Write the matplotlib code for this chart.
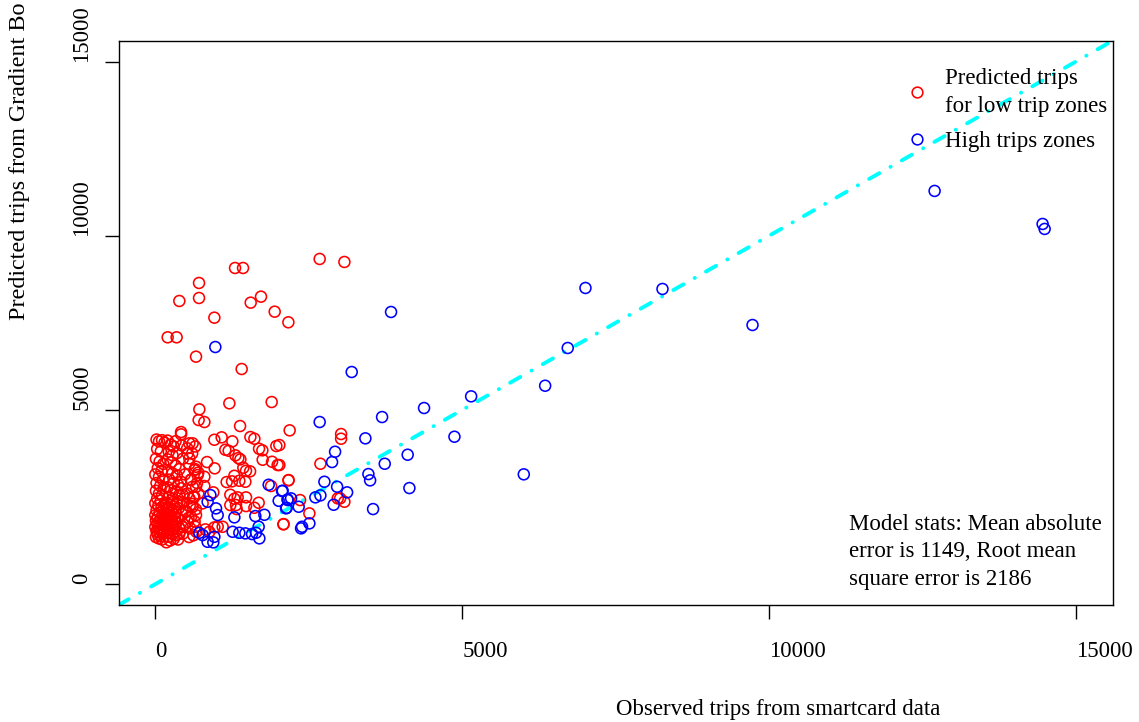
import numpy as np
import matplotlib
matplotlib.use("Agg")
import matplotlib.pyplot as plt
from matplotlib.lines import Line2D

plt.rcParams['font.family'] = ['Liberation Serif', 'DejaVu Serif']

# low trip zones (red), observed vs predicted
red_x = [2678, 3081, 1299, 1429, 712, 391, 712, 1722, 1554, 1945, 2168, 962, 201, 347, 663, 1407,
         717, 1206, 1896, 706, 799, 1381, 419, 2189, 962, 1081, 1255, 1549, 1614, 1972, 1690, 1744,
         1141, 1195, 1304, 1353, 1386, 1749, 1902, 1993, 843, 967, 1434, 1478, 1544, 1288, 2173,
         1162, 1250, 1369, 1467, 2690, 1886, 663, 799, 945, 1222, 1288, 1342, 1478, 2359, 1222,
         1315, 1325, 1478, 1614, 1684, 2972, 2510, 2091, 3027, 3027, 2168, 3011, 3081, 2086, 2021,
         2021, 652, 815, 880, 962, 1016, 1097,
         554, 608, 527, 554, 663, 636, 690, 799, 582, 419, 608, 445, 554, 636, 771, 608, 500, 582,
         663, 527, 445,
         20, 60, 110, 150, 30, 90, 10, 70, 130, 40, 100, 0, 60, 120, 20, 80, 140, 10, 60, 110, 30,
         90, 0, 50, 100, 140, 20, 70, 120, 0, 40, 90, 140, 10, 60, 110, 30, 80, 130, 0, 50, 100,
         20, 70, 120, 40, 90, 10, 60, 110, 30, 80, 130, 150, 150, 150, 150,
         200, 250, 300, 330, 220, 280, 350, 200, 260, 330, 390, 210, 280, 350, 230, 300, 370, 200,
         260, 330, 390, 220, 290, 360, 180, 240, 310, 380, 200, 260, 330, 190, 250, 320, 380, 210,
         270, 340, 200, 260, 330, 390, 230, 290, 350, 210, 280, 340, 220, 300, 240, 370, 180, 390,
         260, 300, 220, 350, 280, 230,
         430, 520, 600, 450, 550, 650, 480, 580, 680, 420, 520, 620, 460, 560, 660, 440, 540, 640,
         470, 570, 670, 450, 550, 620, 500, 600, 700, 650, 420, 700]
red_y = [9334, 9248, 9075, 9075, 8645, 8128, 8214, 8252, 8080, 7821, 7516, 7649, 7085, 7085, 6529, 6175,
         5017, 5190, 5227, 4710, 4653, 4538, 4365, 4414, 4144, 4213, 4098, 4222, 4173, 3963, 3886, 3840,
         3857, 3828, 3696, 3619, 3581, 3570, 3512, 3418, 3504, 3323, 3340, 3254, 3237, 3110, 2987,
         2929, 2950, 2967, 2938, 3455, 2815, 2795, 2815, 2634, 2565, 2450, 2490, 2490, 2412, 2269,
         2269, 2154, 2240, 2191, 2335, 2461, 2030, 1723, 4308, 4174, 2978, 2461, 2364, 1715, 3992,
         3418, 1646, 1571, 1502, 1628, 1646, 1646,
         4041, 4041, 3753, 3610, 3369, 3274, 3130, 3082, 2987, 2938, 2795, 2556, 2461, 2508, 2317,
         2220, 2076, 1933, 1982, 1790, 1646,
         4150, 4100, 4130, 4060, 3880, 3810, 3600, 3520, 3450, 3330, 3250, 3150, 3080, 2990, 2900,
         2820, 2760, 2680, 2600, 2550, 2460, 2400, 2320, 2260, 2200, 2150, 2120, 2060, 2010, 1980,
         1930, 1900, 1870, 1830, 1800, 1770, 1740, 1700, 1680, 1640, 1600, 1570, 1520, 1480, 1450,
         1420, 1380, 1350, 1310, 1280, 1500, 1550, 1600, 1950, 2300, 1500, 1750,
         4120, 4000, 3950, 4100, 3800, 3700, 3760, 3580, 3500, 3400, 3300, 3250, 3180, 3120, 3000,
         2900, 2850, 2780, 2700, 2650, 2560, 2500, 2450, 2380, 2330, 2280, 2230, 2180, 2150, 2100,
         2050, 2000, 1960, 1920, 1880, 1850, 1820, 1780, 1740, 1700, 1660, 1620, 1600, 1560, 1520,
         1480, 1440, 1400, 1360, 1300, 1250, 1280, 1200, 1440, 1900, 2000, 2050, 2300, 2350, 2200,
         3980, 3900, 3750, 3600, 3450, 3300, 3150, 3000, 2900, 2750, 2600, 2500, 2350, 2250, 2150,
         2000, 1900, 1800, 1700, 1600, 1500, 1450, 1350, 1400, 2100, 2300, 3200, 3950, 4300, 2600]

# high trip zones (blue)
blue_x = [7009, 8264, 12698, 14458, 14491, 9731, 978, 3841, 3200, 6720, 6352, 5146, 4379, 3695,
          2678, 4874, 3423, 4112, 2929, 2880, 3738, 6004, 3472, 3500, 4140, 2755, 2962, 3125, 2690,
          2608, 2906, 3548, 2075, 2157, 2212, 2336, 2130, 2391, 2510, 1847, 2065, 2010, 2156, 2140,
          897, 852, 989, 1016, 1288, 1630, 1777, 1684, 1641, 1695, 2375, 1260, 1369, 1467, 1576,
          852, 945, 962, 717, 771]
blue_y = [8501, 8473, 11287, 10339, 10196, 7438, 6806, 7812, 6089, 6778, 5695, 5390, 5055, 4796,
          4653, 4231, 4184, 3714, 3800, 3504, 3455, 3151, 3159, 2978, 2757, 2938, 2795, 2634, 2547,
          2490, 2278, 2154, 2680, 2412, 2461, 2220, 2174, 1646, 1743, 2852, 2671, 2392, 2433, 2191,
          2556, 2364, 2174, 1982, 1916, 1953, 1990, 1646, 1473, 1313, 1600, 1502, 1473, 1456, 1436,
          1215, 1198, 1358, 1473, 1407]

ticks = [0, 5000, 10000, 15000]
fs = 16.5
W, H = 1139, 722
L, R, T, B = 118.5, 1112.7, 40.7, 605

fig = plt.figure(figsize=(W / 100, H / 100), dpi=100)
ax = fig.add_axes([L / W, 1 - B / H, (R - L) / W, (B - T) / H])

ax.scatter(red_x, red_y, s=62, facecolors='none', edgecolors='#ff0000', linewidths=1.15, zorder=3)
ax.scatter(blue_x, blue_y, s=62, facecolors='none', edgecolors='#0000ff', linewidths=1.15, zorder=3)

ax.axline((0, 0), slope=1, color='#00ffff', lw=2.8, linestyle=(0, (3.0, 3.3, 0.05, 3.3)),
          dash_capstyle='round', zorder=2)

ax.set_xlim(-600, 15600)
ax.set_ylim(-600, 15600)
ax.set_xticks(ticks)
ax.set_yticks(ticks)
# labels start at the tick (left-justified text, as in the original)
ax.set_xticklabels([str(t) for t in ticks], fontsize=fs, ha='left')
ax.set_yticklabels([str(t) for t in ticks], fontsize=fs, rotation=90, va='bottom')
ax.tick_params(axis='both', length=10, width=1.0, direction='out')
ax.tick_params(axis='x', pad=16)
ax.tick_params(axis='y', pad=9)
for sp in ax.spines.values():
    sp.set_linewidth(1.0)

handles = [Line2D([], [], marker='o', ls='none', mfc='none', mec='#ff0000', ms=7.7, mew=1.15),
           Line2D([], [], marker='o', ls='none', mfc='none', mec='#0000ff', ms=7.7, mew=1.15)]
leg = ax.legend(handles, ['Predicted trips\nfor low trip zones', 'High trips zones'],
                loc='upper left', bbox_to_anchor=((906 - L) / (R - L), (B - 68) / (B - T)),
                frameon=False, fontsize=fs, handlelength=1.0, handletextpad=0.7,
                labelspacing=0.62, borderpad=0, borderaxespad=0)
for t in leg.get_texts():
    t.set_linespacing(1.42)

ax.text((849 - L) / (R - L), (B - 514) / (B - T),
        'Model stats: Mean absolute\nerror is 1149, Root mean\nsquare error is 2186',
        transform=ax.transAxes, ha='left', va='top', fontsize=fs, linespacing=1.4)

fig.text((L + R) / 2 / W, 1 - 710 / H, 'Observed trips from smartcard data',
         ha='left', va='center', fontsize=fs)
fig.text(20 / W, 1 - 2 / H, 'Predicted trips from Gradient Bo',
         ha='center', va='top', rotation=90, fontsize=17.4)

fig.savefig('out.png', dpi=100)
